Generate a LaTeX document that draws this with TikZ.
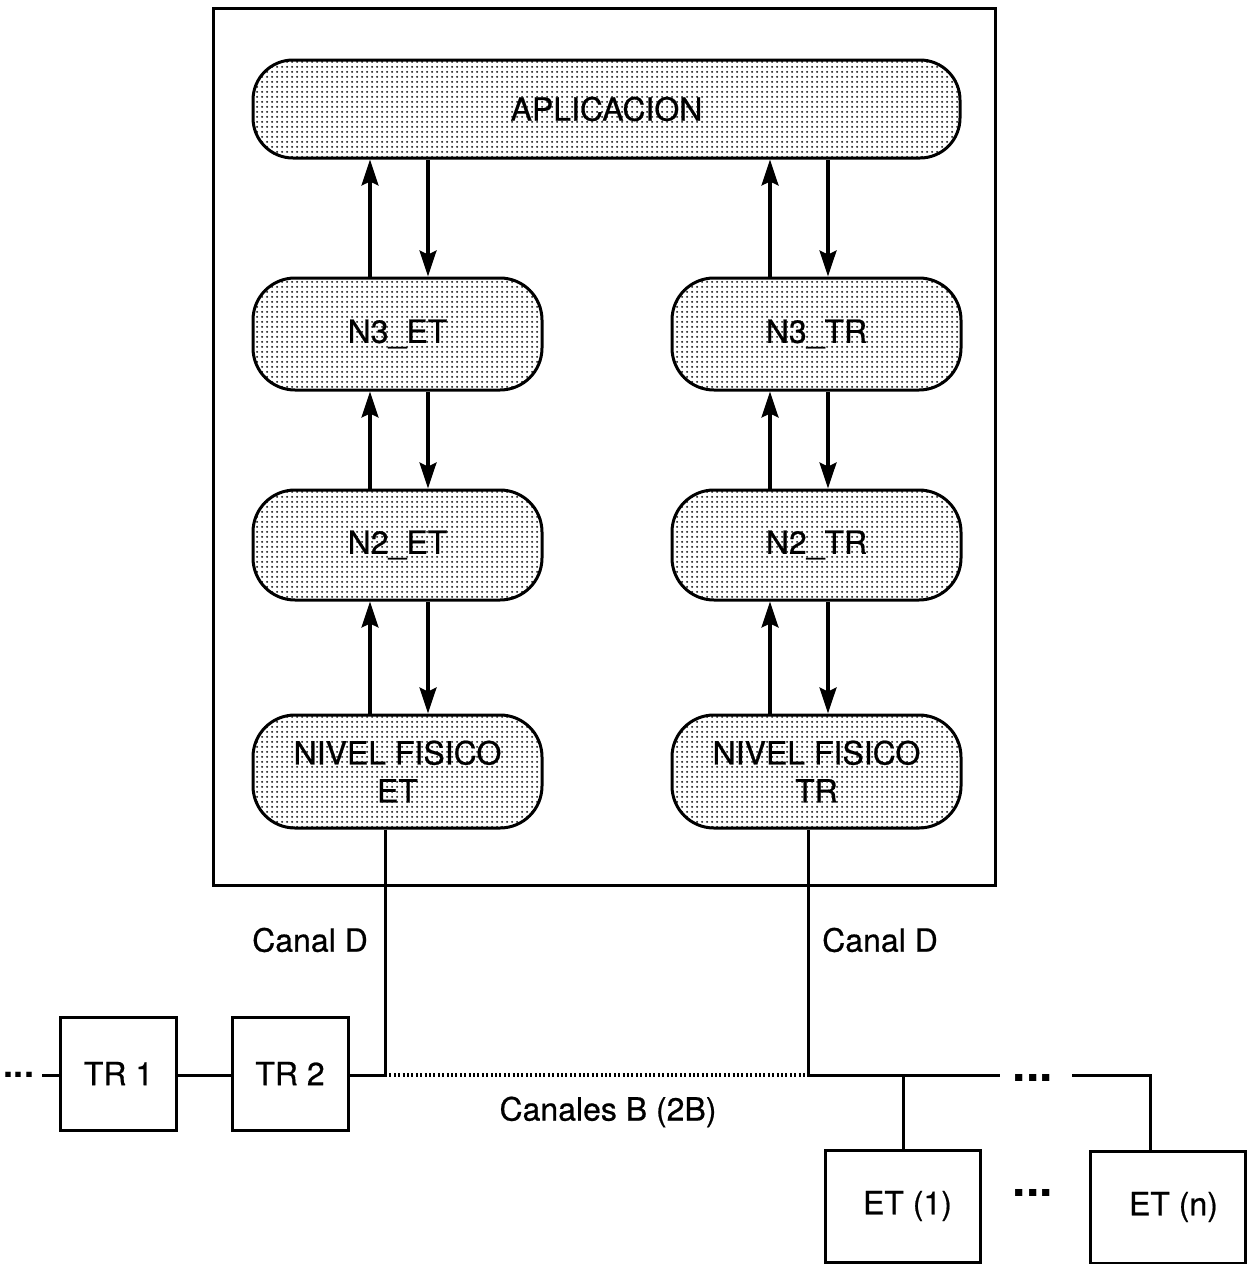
\documentclass[tikz,border=0pt]{standalone}
\usepackage{fontspec}
\setmainfont{TeX Gyre Heros}
\newfontfamily\labelfont{TeX Gyre Heros}[FakeBold=0.6]
\usetikzlibrary{arrows.meta,patterns.meta}

% fine dot screen used as the fill of the protocol layers
\tikzdeclarepattern{
  name=finedots,
  type=uncolored,
  bounding box={(0,0) and (2.5pt,2.5pt)},
  tile size={(2.5pt,2.5pt)},
  code={\fill (1.25pt,1.25pt) circle (0.65pt);}
}

\tikzset{
  layer/.style={draw, line width=1.5pt, rounded corners=21pt,
    pattern=finedots, pattern color=black!85, align=center,
    minimum width=144.5pt, minimum height=56pt, inner sep=0pt,
    font=\labelfont\fontsize{16}{19}\selectfont},
  unit/.style={draw, line width=1.5pt, minimum width=58pt,
    minimum height=56.5pt, inner sep=0pt,
    font=\labelfont\fontsize{16}{19}\selectfont},
  wire/.style={line width=1.5pt},
  flow/.style={line width=1.6pt, -{Stealth[length=13pt,width=8.5pt,inset=2pt]}},
  lbl/.style={inner sep=0pt, font=\labelfont\fontsize{16}{19}\selectfont},
  ellip/.style={inner sep=0pt, font=\fontsize{24}{26}\selectfont\bfseries},
}

\begin{document}
\begin{tikzpicture}[x=0.5pt, y=-0.5pt]
\useasboundingbox (0,0) rectangle (1253,1264);

% enclosing system frame
\draw[line width=1.5pt] (213,8) rectangle (995,885);

% protocol layers
\node[layer, minimum width=353.5pt, minimum height=49pt, rounded corners=20pt]
  (apl) at (606.5,109) {APLICACION};
\node[layer] (n3et) at (397.5,334) {N3\_ET};
\node[layer] (n3tr) at (816.5,334) {N3\_TR};
\node[layer, minimum height=55pt] (n2et) at (397.5,545) {N2\_ET};
\node[layer, minimum height=55pt] (n2tr) at (816.5,545) {N2\_TR};
\node[layer, minimum height=56.5pt] (nfet) at (397.5,771.5) {NIVEL FISICO\\ET};
\node[layer, minimum height=56.5pt] (nftr) at (816.5,771.5) {NIVEL FISICO\\TR};

% upward / downward exchanges between layers (ET side)
\foreach \lo/\hi in {n3et/apl, n2et/n3et, nfet/n2et}{
  \draw[flow] ([xshift=-13.75pt]\lo.north) -- ([xshift=-13.75pt]\lo.north |- \hi.south);
  \draw[flow] ([xshift=15.25pt]\lo.north |- \hi.south) -- ([xshift=15.25pt]\lo.north);
}
% upward / downward exchanges between layers (TR side)
\foreach \lo/\hi in {n3tr/apl, n2tr/n3tr, nftr/n2tr}{
  \draw[flow] ([xshift=-23.25pt]\lo.north) -- ([xshift=-23.25pt]\lo.north |- \hi.south);
  \draw[flow] ([xshift=5.75pt]\lo.north |- \hi.south) -- ([xshift=5.75pt]\lo.north);
}

% terminals on the network side
\node[unit] (tr1) at (118.5,1073.5) {TR 1};
\node[unit] (tr2) at (290,1073.5) {TR 2};
\node[unit, minimum width=77.5pt, minimum height=56pt] (et1) at (902.5,1206)
  {\hspace*{5pt}\raisebox{-3.5pt}{ET (1)}};
\node[unit, minimum width=77.5pt, minimum height=56pt] (etn) at (1167.5,1207)
  {\hspace*{6pt}\raisebox{-3pt}{ET (n)}};

% bus junction points
\coordinate (jet) at (385,1075);
\coordinate (jtr) at (808,1075);
\coordinate (jet1) at (903,1075);
\coordinate (busend) at (1000,1075);
\coordinate (busrest) at (1072,1075);
\coordinate (jetn) at (1150,1075);
\coordinate (leftend) at (42,1075);

% D channels
\draw[wire] (nfet.south -| jet) -- (jet);
\draw[wire] (nftr.south -| jtr) -- (jtr);

% line on the TR side
\draw[wire] (leftend) -- (tr1.west |- leftend);
\draw[wire] (tr1.east |- leftend) -- (tr2.west |- leftend);
\draw[wire] (tr2.east |- jet) -- (jet);

% B channels
\draw[line width=1.8pt, dash pattern=on 1pt off 1.2pt] (jet) -- (jtr);

% line on the ET side
\draw[wire] (jtr) -- (busend);
\draw[wire] (jet1) -- (et1.north -| jet1);
\draw[wire] (busrest) -- (jetn) -- (etn.north -| jetn);

% labels
\node[lbl] (cdl) at (310,940) {Canal D};
\node[lbl] (cdr) at (880,940) {Canal D};
\node[lbl] (cb) at (608,1112) {Canales B (2B)};
\node[ellip, font=\fontsize{18}{21}\selectfont\bfseries] (dl) at (19,1075) {...};
\node[ellip] (db) at (1033,1078) {...};
\node[ellip] (de) at (1033,1193) {...};
\end{tikzpicture}
\end{document}
